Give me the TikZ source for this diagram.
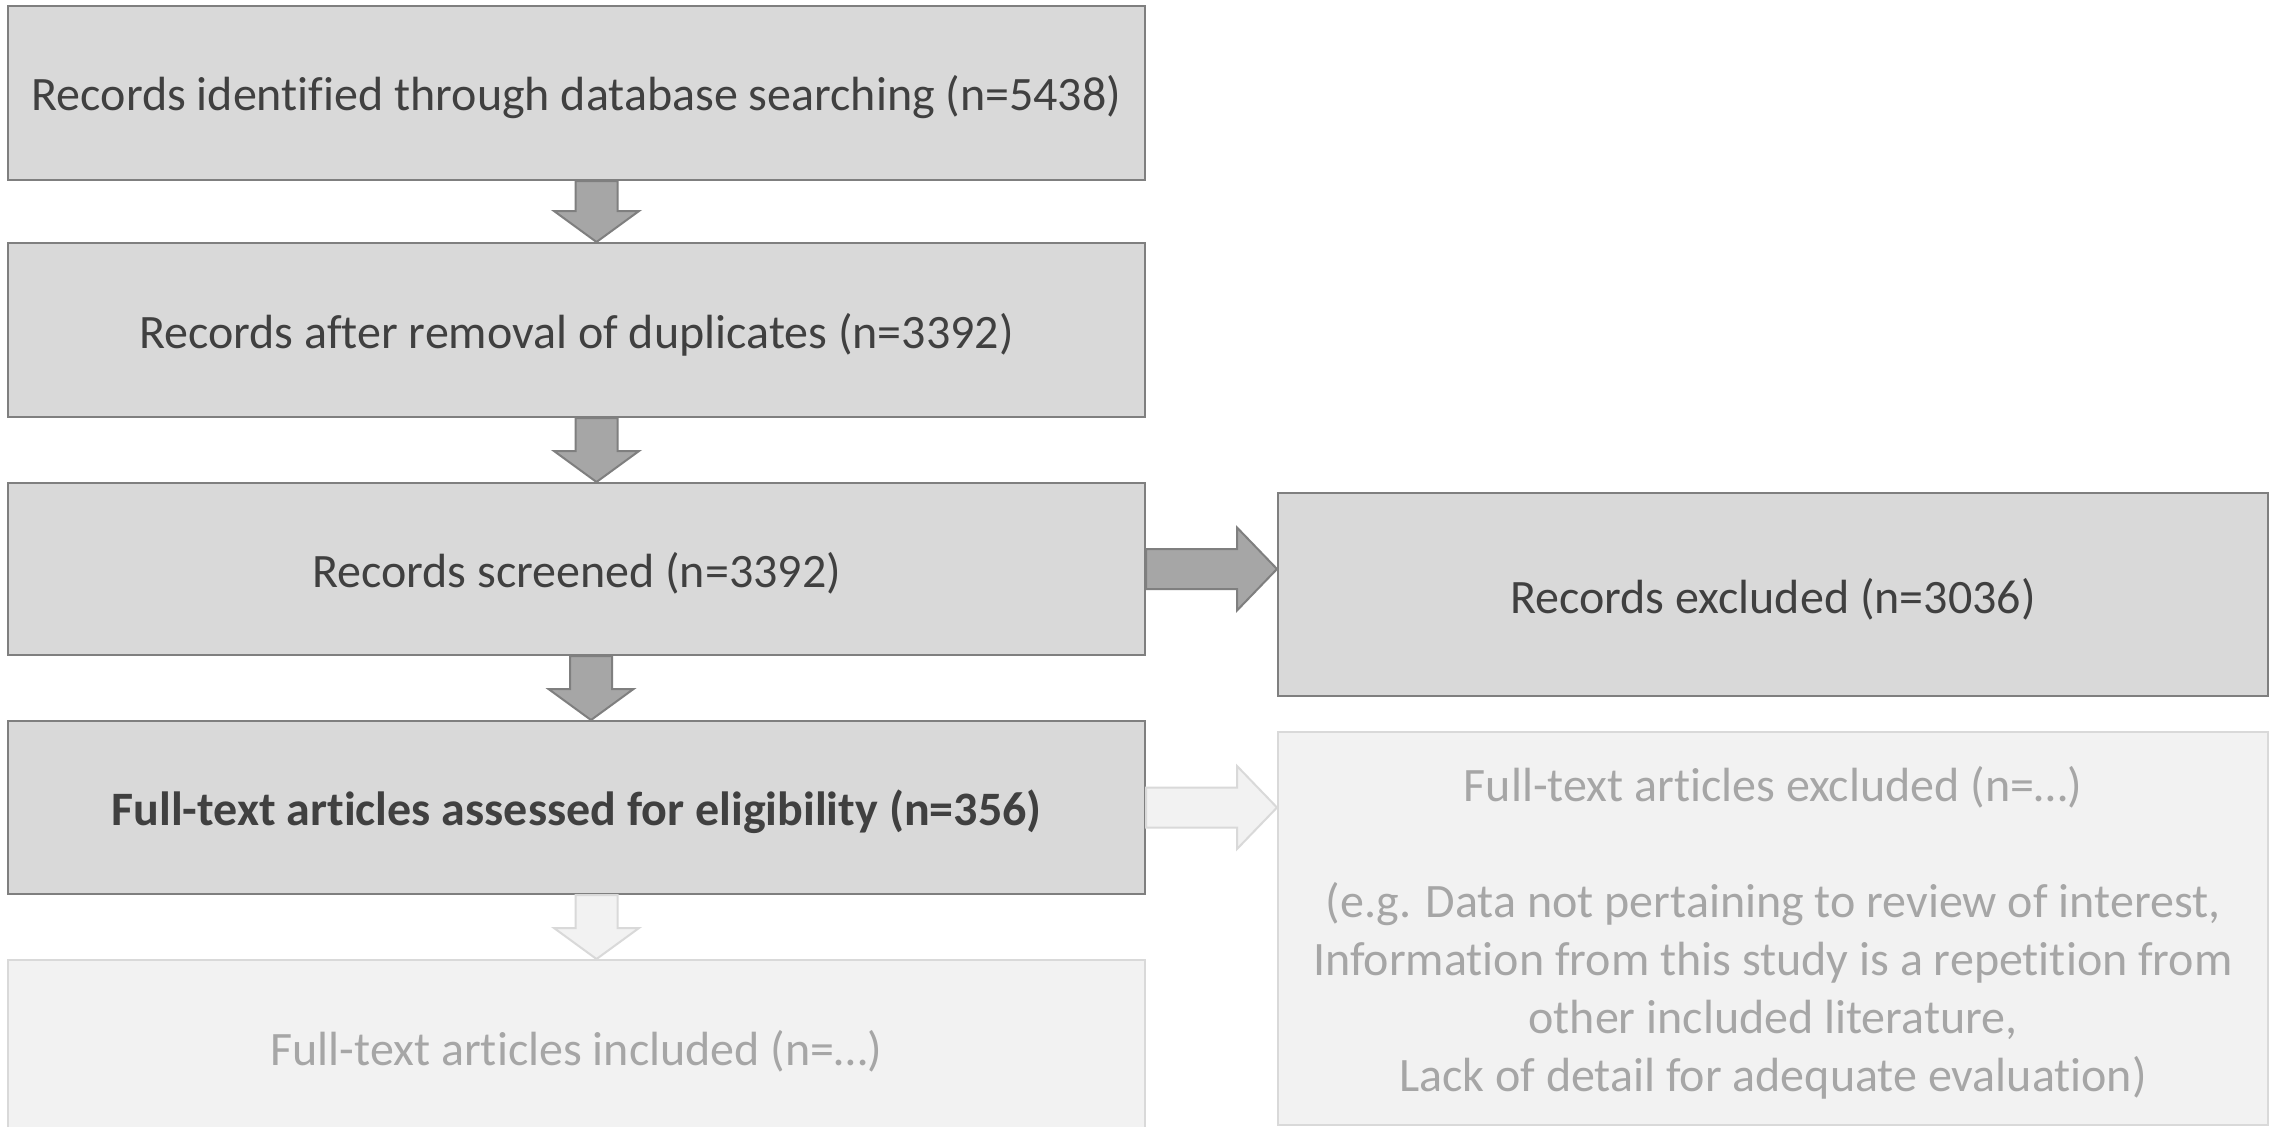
\documentclass[tikz,border=0pt]{standalone}
\usepackage{fontspec}
\setmainfont{Carlito}[Ligatures=NoCommon]
\usetikzlibrary{calc}
\definecolor{boxfill}{HTML}{D9D9D9}
\definecolor{boxline}{HTML}{7F7F7F}
\definecolor{arrfill}{HTML}{A6A6A6}
\definecolor{darktext}{HTML}{404040}
\definecolor{faintfill}{HTML}{F2F2F2}
\definecolor{faintline}{HTML}{D9D9D9}
\definecolor{fainttext}{HTML}{A6A6A6}
\newcommand\lowertext[2][2.2pt]{\raisebox{-#1}[\height][\depth]{#2}}
\newcommand\vblockarrow[4]{%
  \draw[#1] ($(#2.south)+(#4-21,0)$) -- ($(#3.north)+(#4-21,-31)$) -- ($(#3.north)+(#4-42.5,-31)$) -- ($(#3.north)+(#4,0)$) -- ($(#3.north)+(#4+42.5,-31)$) -- ($(#3.north)+(#4+21,-31)$) -- ($(#2.south)+(#4+21,0)$) -- cycle;}
\newcommand\hblockarrow[3]{%
  \draw[#1] ($(#2.east)+(0,-20)$) -- ($(#2.east -| #3.west)+(-40,-20)$) -- ($(#2.east -| #3.west)+(-40,-41.5)$) -- (#2.east -| #3.west) -- ($(#2.east -| #3.west)+(-40,41.5)$) -- ($(#2.east -| #3.west)+(-40,20)$) -- ($(#2.east)+(0,20)$) -- cycle;}
\tikzset{
  mainbox/.style={draw=boxline, fill=boxfill, line width=1pt, text=darktext, inner sep=0pt, font=\fontsize{24}{29}\selectfont, align=center},
  faintbox/.style={draw=faintline, fill=faintfill, line width=1pt, text=fainttext, inner sep=0pt, font=\fontsize{24}{29}\selectfont, align=center},
  mainarrow/.style={draw=boxline, fill=arrfill, line width=1pt, line join=miter},
  faintarrow/.style={draw=faintline, fill=faintfill, line width=1pt, line join=miter}
}
\begin{document}
\begin{tikzpicture}[x=0.5pt, y=-0.5pt]
\useasboundingbox (0,0) rectangle (2275,1126);
\clip (0,0) rectangle (2275,1126);
\fill[white] (0,0) rectangle (2275,1126);
\node[mainbox, minimum width=568.5pt, minimum height=87pt] (b1) at (576.5,93) {\lowertext{Records identified through database searching (n=5438)}};
\node[mainbox, minimum width=568.5pt, minimum height=87pt] (b2) at (576.5,330) {\lowertext{Records after removal of duplicates (n=3392)}};
\node[mainbox, minimum width=568.5pt, minimum height=86pt] (b3) at (576.5,569) {\lowertext{Records screened (n=3392)}};
\node[mainbox, minimum width=568.5pt, minimum height=86.5pt] (b4) at (576.5,807.5) {\lowertext{\bfseries Full-text articles assessed for eligibility (n=356)}};
\node[faintbox, minimum width=568.5pt, minimum height=87pt] (b5) at (576.5,1047) {\lowertext{Full-text articles included (n=…)}};
\node[mainbox, minimum width=495pt, minimum height=101.5pt] (r1) at (1773,594.5) {\lowertext{Records excluded (n=3036)}};
\node[faintbox, minimum width=495pt, minimum height=196.5pt] (r2) at (1773,928.5) {\lowertext[3.2pt]{\begin{tabular}{@{}c@{}}Full-text articles excluded (n=…)\\[29pt](e.g. Data not pertaining to review of interest,\\Information from this study is a repetition from\\other included literature,\\Lack of detail for adequate evaluation)\end{tabular}}};
\vblockarrow{mainarrow}{b1}{b2}{20}
\vblockarrow{mainarrow}{b2}{b3}{20}
\vblockarrow{mainarrow}{b3}{b4}{14.5}
\vblockarrow{faintarrow}{b4}{b5}{20}
\hblockarrow{mainarrow}{b3}{r1}
\hblockarrow{faintarrow}{b4}{r2}
\end{tikzpicture}
\end{document}
